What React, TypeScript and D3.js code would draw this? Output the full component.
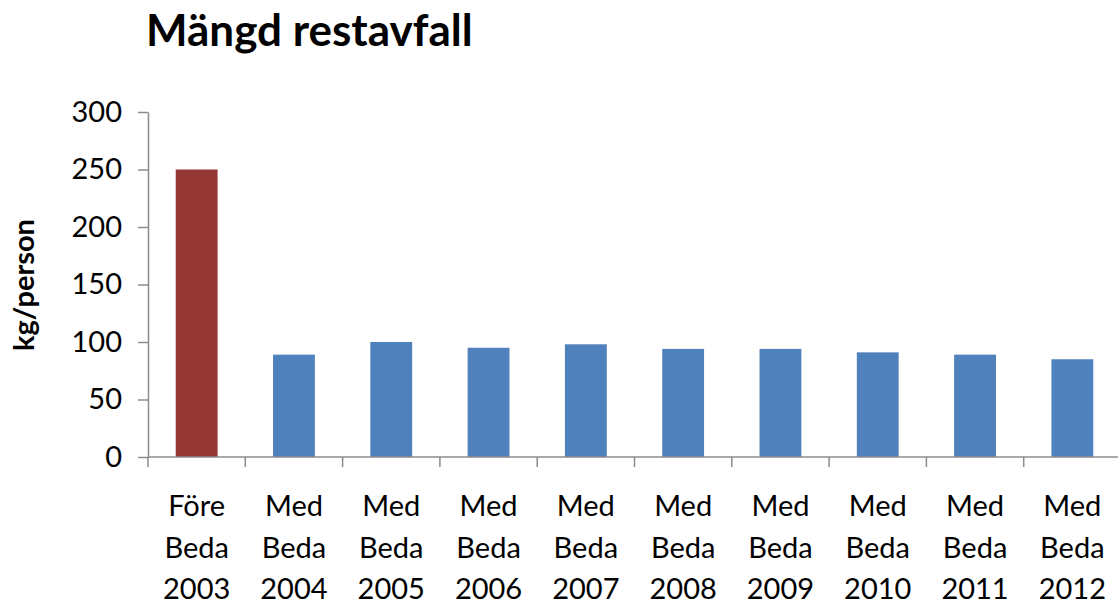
import * as d3 from "d3";
import { useEffect, useRef } from "react";

// chart data
const categories = [
    "Före Beda 2003",
    "Med Beda 2004",
    "Med Beda 2005",
    "Med Beda 2006",
    "Med Beda 2007",
    "Med Beda 2008",
    "Med Beda 2009",
    "Med Beda 2010",
    "Med Beda 2011",
    "Med Beda 2012",
];
const values = [250, 89, 100, 95, 98, 94, 94, 91, 89, 85];
const yTicks = [0, 50, 100, 150, 200, 250, 300];

const width = 1118;
const height = 602;

function App() {
    const ref = useRef<SVGSVGElement>(null);

    useEffect(() => {
        const margin = { top: 112, bottom: 145, left: 148, right: -3 };
        const font = "Lato, 'Open Sans', sans-serif";

        const svg = d3.select(ref.current);
        svg.selectAll("*").remove();

        const x = d3.scaleBand()
            .domain(categories)
            .range([margin.left, width - margin.right])
            .paddingInner(0.57)
            .paddingOuter(0.285);

        const y = d3.scaleLinear()
            .domain([0, 300])
            .range([height - margin.bottom, margin.top]);

        // Title
        svg.append("text")
            .attr("x", 146)
            .attr("y", 46)
            .style("font-family", font)
            .style("font-size", "44px")
            .style("font-weight", "bold")
            .text("Mängd restavfall");

        // Y axis label
        svg.append("text")
            .attr("transform", `translate(34,285) rotate(-90)`)
            .attr("text-anchor", "middle")
            .style("font-family", font)
            .style("font-size", "29px")
            .style("font-weight", "bold")
            .text("kg/person");

        // Y axis
        const yAxis = svg.append("g")
            .attr("transform", `translate(${margin.left},0)`)
            .call(d3.axisLeft(y).tickValues(yTicks).tickSize(10).tickSizeOuter(0).tickPadding(16));
        yAxis.select(".domain").attr("stroke", "#8c8c8c").attr("stroke-width", 1.5);
        yAxis.selectAll(".tick line").attr("stroke", "#8c8c8c").attr("stroke-width", 1.5);
        yAxis.selectAll(".tick text")
            .attr("fill", "#000")
            .style("font-family", font)
            .style("font-size", "29px");

        // Bars
        svg.append("g")
            .selectAll("rect")
            .data(values)
            .join("rect")
            .attr("x", (_, i) => x(categories[i])!)
            .attr("y", (d) => y(d))
            .attr("width", x.bandwidth())
            .attr("height", (d) => y(0) - y(d))
            .attr("fill", (_, i) => (i === 0 ? "#953735" : "#4F81BD"));

        // X axis line and ticks at category boundaries
        const step = x.step();
        const boundaries = d3.range(categories.length + 1).map((i) => margin.left + i * step);
        svg.append("line")
            .attr("x1", margin.left)
            .attr("x2", width)
            .attr("y1", y(0))
            .attr("y2", y(0))
            .attr("stroke", "#8c8c8c")
            .attr("stroke-width", 1.5);
        svg.append("g")
            .selectAll("line")
            .data(boundaries)
            .join("line")
            .attr("x1", (d) => d)
            .attr("x2", (d) => d)
            .attr("y1", y(0))
            .attr("y2", y(0) + 10)
            .attr("stroke", "#8c8c8c")
            .attr("stroke-width", 1.5);

        // Category labels, three lines each
        const labels = svg.append("g")
            .selectAll("text")
            .data(categories)
            .join("text")
            .attr("text-anchor", "middle")
            .style("font-family", font)
            .style("font-size", "29px")
            .attr("fill", "#000");
        labels.each(function (d) {
            const cx = x(d)! + x.bandwidth() / 2;
            d3.select(this)
                .selectAll("tspan")
                .data(d.split(" "))
                .join("tspan")
                .attr("x", cx)
                .attr("y", (_, i) => 516 + i * 41.5)
                .text((t) => t);
        });
    }, []);

    return (
        <svg
            ref={ref}
            width={width}
            height={height}
            style={{ position: "absolute", left: 0, top: 0, background: "#fff" }}
        />
    );
}

export default App;
